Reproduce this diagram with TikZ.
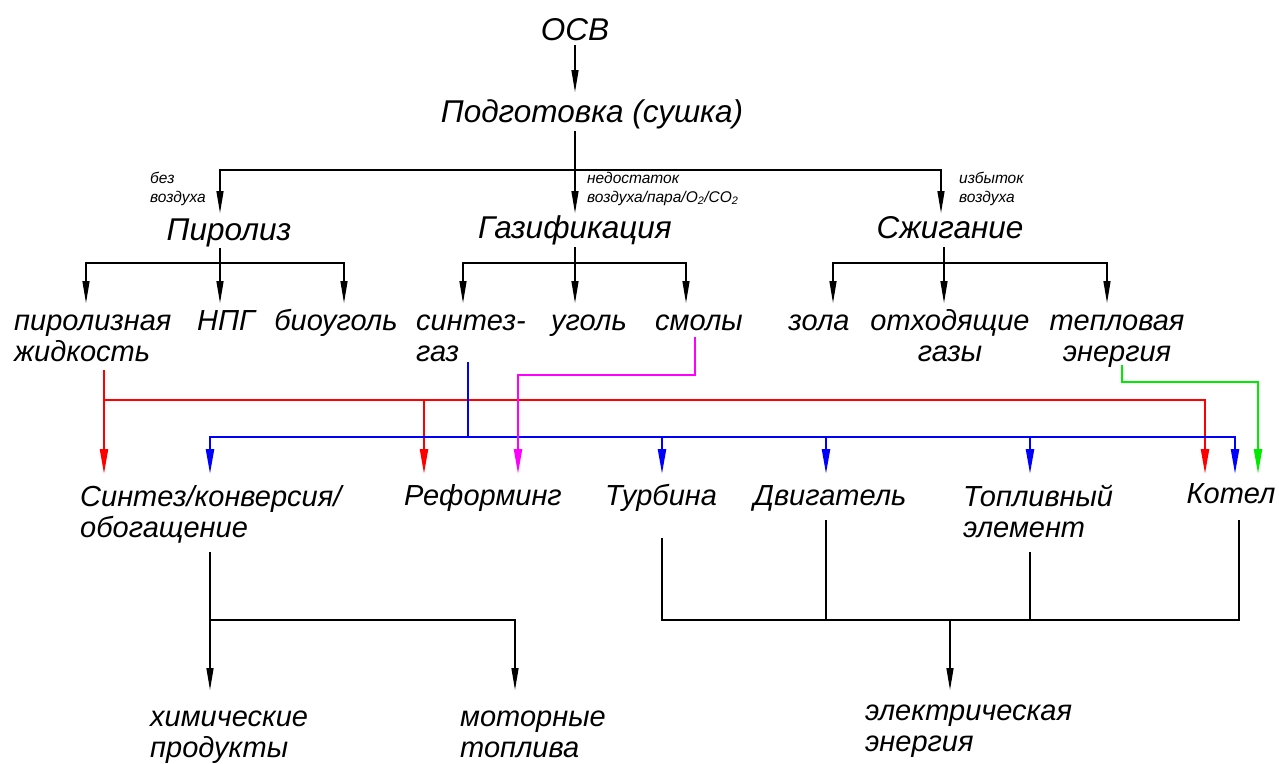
\documentclass[tikz,border=0pt]{standalone}
\usepackage{fontspec}
\setmainfont{Liberation Sans}
\usetikzlibrary{arrows.meta}
\definecolor{cred}{RGB}{255,0,0}
\definecolor{cblue}{RGB}{0,0,255}
\definecolor{cpink}{RGB}{255,0,255}
\definecolor{cgreen}{RGB}{0,235,0}
\begin{document}
\begin{tikzpicture}[x=1pt,y=-1pt,
  big/.style={font=\fontsize{31.5}{34}\selectfont\itshape, inner sep=0pt},
  lbl/.style={font=\fontsize{29}{31}\selectfont\itshape, inner sep=0pt},
  small/.style={font=\fontsize{15.5}{19}\selectfont\itshape, inner sep=0pt, align=left, anchor=base west},
  ln/.style={line width=1.3pt, draw=black},
  arr/.style={ln, -{Triangle[length=22pt,width=7pt]}},
  cl/.style={line width=2.2pt},
  carr/.style={cl, -{Triangle[length=25pt,width=8pt]}},
]
\useasboundingbox (0,0) rectangle (1279,763);

% ---------- texts (multi-line nodes: base = baseline of last line) ----------
\node[big,anchor=base] (osv) at (575,40) {ОСВ};
\node[big,anchor=base] (prep) at (592,122) {Подготовка (сушка)};
\node[big,anchor=base] (pyr) at (229,240) {Пиролиз};
\node[big,anchor=base] (gas) at (575,238) {Газификация};
\node[big,anchor=base] (burn) at (950,238) {Сжигание};

\node[small] (nA) at (150,202) {без\\воздуха};
\node[small] (nG) at (587,202) {недостаток\\воздуха/пара/O\textsubscript{2}/CO\textsubscript{2}};
\node[small] (nB) at (959,202) {избыток\\воздуха};

\node[lbl,anchor=base west,align=left] (oil) at (14,361) {пиролизная\\жидкость};
\node[lbl,anchor=base] (npg) at (226,330) {НПГ};
\node[lbl,anchor=base] (bio) at (336,330) {биоуголь};
\node[lbl,anchor=base west,align=left] (syn) at (416,361) {синтез-\\газ};
\node[lbl,anchor=base] (coal) at (589,330) {уголь};
\node[lbl,anchor=base] (tar) at (699,330) {смолы};
\node[lbl,anchor=base] (ash) at (819,330) {зола};
\node[lbl,anchor=base,align=center] (flue) at (950,361) {отходящие\\газы};
\node[lbl,anchor=base,align=center] (heat) at (1117,361) {тепловая\\энергия};

\node[lbl,anchor=base west,align=left] (conv) at (80,537) {Синтез/конверсия/\\обогащение};
\node[lbl,anchor=base] (ref) at (483,505) {Реформинг};
\node[lbl,anchor=base] (turb) at (661,505) {Турбина};
\node[lbl,anchor=base] (eng) at (830,505) {Двигатель};
\node[lbl,anchor=base west,align=left] (fc) at (963,537) {Топливный\\элемент};
\node[lbl,anchor=base] (boil) at (1231,503) {Котел};

\node[lbl,anchor=base west,align=left] (chem) at (150,757) {химические\\продукты};
\node[lbl,anchor=base west,align=left] (motor) at (460,757) {моторные\\топлива};
\node[lbl,anchor=base west,align=left] (elec) at (865,751) {электрическая\\энергия};

% ---------- coordinates ----------
\coordinate (osvOut) at (575,45);
\coordinate (prepIn) at (575,92);
\coordinate (prepOut) at (575,131);
\coordinate (jTop) at (575,170);
\coordinate (pyrIn) at (220,213);
\coordinate (gasIn) at (575,213);
\coordinate (burnIn) at (941,213);

\coordinate (pyrOut) at (220,248);
\coordinate (jP) at (220,263);
\coordinate (oilIn) at (86,303);
\coordinate (npgIn) at (220,303);
\coordinate (bioIn) at (344,303);

\coordinate (gasOut) at (575,247);
\coordinate (jG) at (575,263);
\coordinate (synIn) at (463,303);
\coordinate (coalIn) at (575,303);
\coordinate (tarIn) at (686,303);

\coordinate (burnOut) at (944,247);
\coordinate (jB) at (944,263);
\coordinate (ashIn) at (833,303);
\coordinate (flueIn) at (944,303);
\coordinate (heatIn) at (1107,303);

% colored
\coordinate (oilOut) at (104,370);
\coordinate (jR) at (104,400);
\coordinate (convR) at (104,474);
\coordinate (refR) at (424,474);
\coordinate (boilR) at (1205,474);

\coordinate (synOut) at (468,362);
\coordinate (jBl) at (468,437);
\coordinate (convB) at (210,474);
\coordinate (turbB) at (662,474);
\coordinate (engB) at (826,474);
\coordinate (fcB) at (1030,474);
\coordinate (boilB) at (1235,474);

\coordinate (tarOut) at (695,337);
\coordinate (pBend) at (695,375);
\coordinate (refP) at (518,474);

\coordinate (heatOut) at (1122,365);
\coordinate (gBend) at (1122,382);
\coordinate (boilG) at (1258,474);

% bottom
\coordinate (convOut) at (210,552);
\coordinate (jC) at (210,620);
\coordinate (chemIn) at (210,690);
\coordinate (motorIn) at (515,690);
\coordinate (turbOut) at (662,538);
\coordinate (engOut) at (826,520);
\coordinate (fcOut) at (1030,552);
\coordinate (boilOut) at (1239,520);
\coordinate (jE) at (950,620);
\coordinate (elecIn) at (950,690);

% ---------- connectors ----------
\draw[arr] (osvOut) -- (prepIn);
\draw[ln] (prepOut) -- (jTop);
\draw[arr] (jTop) -| (pyrIn);
\draw[arr] (jTop) -- (gasIn);
\draw[arr] (jTop) -| (burnIn);

\draw[ln] (pyrOut) -- (jP);
\draw[arr] (jP) -| (oilIn);
\draw[arr] (jP) -- (npgIn);
\draw[arr] (jP) -| (bioIn);

\draw[ln] (gasOut) -- (jG);
\draw[arr] (jG) -| (synIn);
\draw[arr] (jG) -- (coalIn);
\draw[arr] (jG) -| (tarIn);

\draw[ln] (burnOut) -- (jB);
\draw[arr] (jB) -| (ashIn);
\draw[arr] (jB) -- (flueIn);
\draw[arr] (jB) -| (heatIn);

\draw[carr,cred] (oilOut) -- (convR);
\draw[carr,cred] (jR) -| (boilR);
\draw[carr,cred] (jR -| refR) -- (refR);

\draw[cl,cblue] (synOut) -- (jBl);
\draw[carr,cblue] (jBl) -| (convB);
\draw[carr,cblue] (jBl) -| (boilB);
\draw[carr,cblue] (jBl -| turbB) -- (turbB);
\draw[carr,cblue] (jBl -| engB) -- (engB);
\draw[carr,cblue] (jBl -| fcB) -- (fcB);

\draw[carr,cpink] (tarOut) -- (pBend) -| (refP);
\draw[carr,cgreen] (heatOut) -- (gBend) -| (boilG);

\draw[arr] (convOut) -- (chemIn);
\draw[arr] (jC) -| (motorIn);
\draw[ln] (turbOut) |- (boilOut |- jE) -- (boilOut);
\draw[ln] (engOut) -- (engOut |- jE);
\draw[ln] (fcOut) -- (fcOut |- jE);
\draw[arr] (jE) -- (elecIn);
\end{tikzpicture}
\end{document}
